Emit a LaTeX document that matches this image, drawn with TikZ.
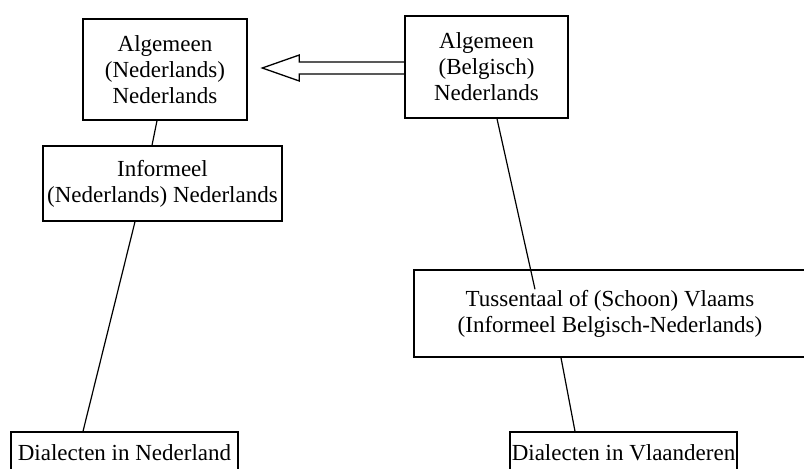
\documentclass[tikz,border=0pt]{standalone}
\usepackage{fontspec}
\setmainfont{Liberation Serif}
\begin{document}
\begin{tikzpicture}[x=1pt,y=-1pt,
  box/.style={draw=black,line width=1.4pt,fill=white,inner sep=0pt,align=center,
    font=\fontsize{23}{26}\selectfont,text=black},
  link/.style={draw=black,line width=1.2pt}]
\useasboundingbox (0,0) rectangle (804,469);
\clip (0,0) rectangle (804,469);
\node[box,minimum width=164pt,minimum height=101pt] (b1) at (165,69.5) {Algemeen\\(Nederlands)\\Nederlands};
\node[box,minimum width=239pt,minimum height=75pt] (b2) at (162.5,183.5) {Informeel\\(Nederlands) Nederlands};
\node[box,minimum width=163pt,minimum height=102pt] (b3) at (486.5,67) {Algemeen\\(Belgisch)\\Nederlands};
\node[box,minimum width=392pt,minimum height=87pt] (b4) at (610,313.5) {Tussentaal of (Schoon) Vlaams\\(Informeel Belgisch-Nederlands)};
\node[box,minimum width=227pt,minimum height=60pt,text depth=18pt] (b5) at (124.5,462) {Dialecten in Nederland};
\node[box,minimum width=227pt,minimum height=60pt,text depth=18pt] (b6) at (623.5,462) {Dialecten in Vlaanderen};
\coordinate (t4) at ([xshift=-75pt,yshift=-20pt]b4.north);
\draw[link] ([xshift=-8pt]b1.south) -- ([xshift=-10.5pt]b2.north);
\draw[link] ([xshift=-27.5pt]b2.south) -- ([xshift=-41.5pt]b5.north);
\draw[link] ([xshift=10.5pt]b3.south) -- (t4);
\draw[link] ([xshift=-49pt]b4.south) -- ([xshift=-48.5pt]b6.north);
\coordinate (a) at ([yshift=-1pt]b3.west);
\draw[line width=1.3pt,line join=miter] (a) ++(0,-6) -- ++(-105,0) -- ++(0,-7) -- ++(-37,13) -- ++(37,13) -- ++(0,-7) -- ++(105,0);
\end{tikzpicture}
\end{document}
